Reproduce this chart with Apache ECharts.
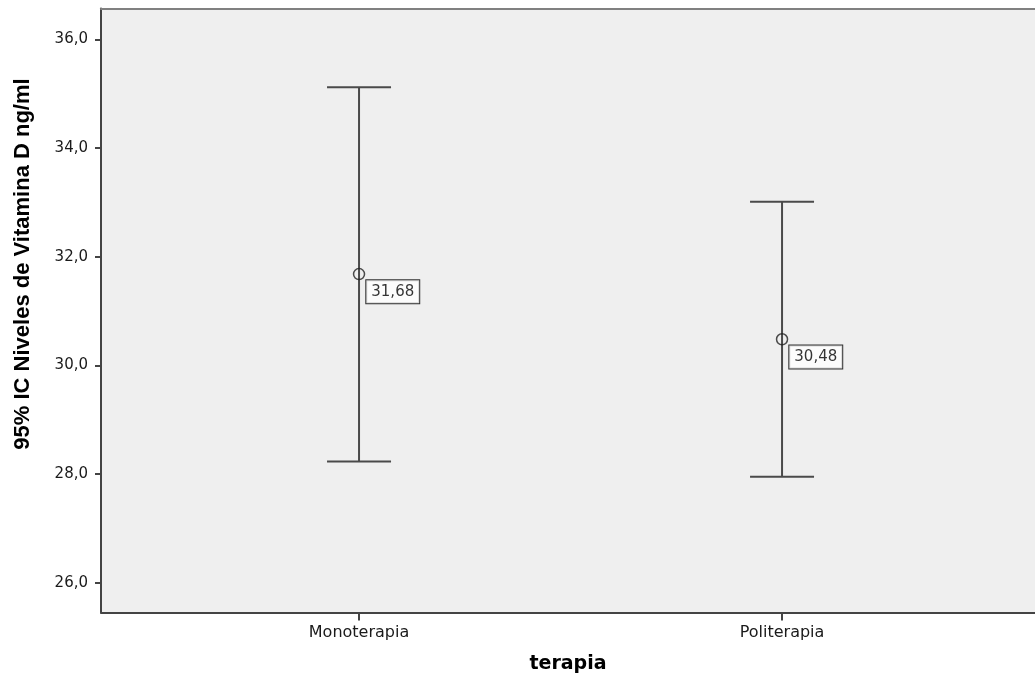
<!DOCTYPE html>
<html>
<head>
<meta charset="utf-8">
<script src="https://cdn.jsdelivr.net/npm/echarts@6/dist/echarts.min.js"></script>
<style>
  html, body { margin: 0; padding: 0; background: #ffffff; }
  #chart { width: 1035px; height: 679px; }
</style>
</head>
<body>
<div id="chart"></div>
<script>
// Mean vitamin D level with 95% confidence interval, by therapy group
const categories = ['Monoterapia', 'Politerapia'];
const means = [31.68, 30.48];
const lowerCI = [28.23, 27.95];
const upperCI = [35.12, 33.01];
const yTicks = [26, 28, 30, 32, 34, 36];

const fmt = (v, d) => v.toFixed(d).replace('.', ',');
const FONT = 'DejaVu Sans';

// x positions: group i sits at i + 1 on a numeric axis
const xPos = categories.map((c, i) => i + 1);
const ciData = categories.map((c, i) => [xPos[i], lowerCI[i], upperCI[i]]);
const meanData = categories.map((c, i) => [xPos[i], means[i]]);

const X_MIN = 0.39, X_MAX = 2.598;

const chart = echarts.init(document.getElementById('chart'), null, { renderer: 'canvas' });

chart.setOption({
  animation: false,
  backgroundColor: '#ffffff',
  grid: {
    left: 101, right: 0, top: 8.5, bottom: 66.5,
    show: true,
    backgroundColor: '#efefef',
    borderWidth: 0
  },
  xAxis: [{
    type: 'value',
    position: 'bottom',
    min: X_MIN, max: X_MAX,
    splitLine: { show: false },
    axisLine: { show: true, onZero: false, lineStyle: { color: '#444', width: 2 } },
    axisTick: { show: true, length: 8, customValues: xPos, lineStyle: { color: '#444', width: 2 } },
    axisLabel: {
      customValues: xPos,
      margin: 12,
      color: '#1a1a1a',
      fontFamily: FONT,
      fontSize: 16,
      formatter: v => categories[Math.round(v) - 1] || ''
    },
    name: 'terapia',
    nameLocation: 'middle',
    nameGap: 42,
    nameTextStyle: { fontFamily: FONT, fontWeight: 'bold', fontSize: 19, color: '#000' }
  }, {
    // top frame line of the plot area
    type: 'value',
    position: 'top',
    min: X_MIN, max: X_MAX,
    splitLine: { show: false },
    axisLine: { show: true, onZero: false, lineStyle: { color: '#808080', width: 2 } },
    axisTick: { show: false },
    axisLabel: { show: false }
  }],
  yAxis: {
    type: 'value',
    min: 25.45, max: 36.57,
    splitLine: { show: false },
    axisLine: { show: true, onZero: false, lineStyle: { color: '#444', width: 2 } },
    axisTick: { show: true, length: 6, customValues: yTicks, lineStyle: { color: '#444', width: 2 } },
    axisLabel: {
      customValues: yTicks,
      margin: 13,
      color: '#1a1a1a',
      fontFamily: FONT,
      fontSize: 15,
      formatter: v => fmt(v, 1)
    }
  },
  graphic: [{
    type: 'text',
    x: 23, y: 264,
    rotation: Math.PI / 2,
    style: {
      text: '95% IC Niveles de Vitamina D ng/ml',
      font: 'bold 22px "Liberation Sans"',
      fill: '#000',
      align: 'center',
      verticalAlign: 'middle'
    }
  }],
  series: [
    {
      // confidence interval whiskers
      type: 'custom',
      data: ciData,
      encode: { x: 0, y: [1, 2] },
      z: 2,
      renderItem: (params, api) => {
        const x = api.value(0);
        const top = api.coord([x, api.value(2)]);
        const bot = api.coord([x, api.value(1)]);
        const half = 32;
        const style = { stroke: '#4a4a4a', lineWidth: 2 };
        return {
          type: 'group',
          children: [
            { type: 'line', shape: { x1: top[0], y1: top[1], x2: bot[0], y2: bot[1] }, style },
            { type: 'line', shape: { x1: top[0] - half, y1: top[1], x2: top[0] + half, y2: top[1] }, style },
            { type: 'line', shape: { x1: bot[0] - half, y1: bot[1], x2: bot[0] + half, y2: bot[1] }, style }
          ]
        };
      }
    },
    {
      // group means with value tags
      type: 'scatter',
      data: meanData,
      z: 3,
      symbol: 'circle',
      symbolSize: 11,
      itemStyle: { color: 'rgba(0,0,0,0)', borderColor: '#222', borderWidth: 1.5 },
      label: {
        show: true,
        position: [13.5, 12.5],
        align: 'left',
        verticalAlign: 'top',
        formatter: p => fmt(p.value[1], 2),
        fontFamily: FONT,
        fontSize: 15,
        color: '#000',
        backgroundColor: '#ffffff',
        borderColor: '#000',
        borderWidth: 1,
        padding: [4, 5, 4, 5]
      }
    }
  ]
});
</script>
</body>
</html>
